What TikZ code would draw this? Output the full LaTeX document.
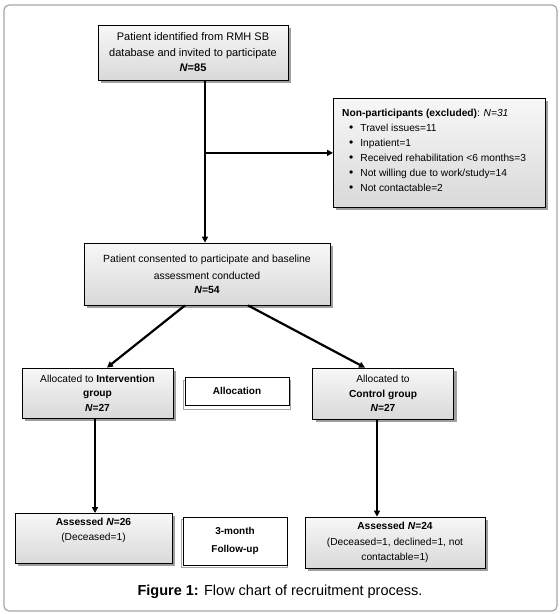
\documentclass[tikz,border=0pt]{standalone}
\usepackage{fontspec}
\setmainfont{Liberation Sans}
\usetikzlibrary{arrows.meta,shadows}
\begin{document}
\begin{tikzpicture}[x=1pt,y=-1pt,
  gbox/.style={draw=black, line width=0.8pt, top color=gray!6, bottom color=gray!30,
    drop shadow={shadow xshift=3pt, shadow yshift=-3pt, fill=gray!75, opacity=1},
    inner sep=0pt, align=center, font=\fontsize{10}{15}\selectfont},
  lbox/.style={draw=black, line width=0.6pt, fill=white, inner sep=0pt,
    align=center, font=\bfseries\fontsize{10}{18}\selectfont},
  arr/.style={line width=2.2pt, -{Triangle[length=6pt,width=6pt]}}]
\useasboundingbox (0,0) rectangle (560,614);
\draw[gray!70, line width=1.2pt, rounded corners=5pt] (4,5) rectangle (557,611);

% top box
\node[gbox, minimum width=190pt, minimum height=55pt, font=\fontsize{11}{15.5}\selectfont] (top) at (193,52.5)
  {Patient identified from RMH SB\\database and invited to participate\\\textbf{\textit{N}=85}};

% excluded box
\node[gbox, minimum width=212pt, minimum height=109pt, anchor=north west] (excl) at (333,98) {};
\node[anchor=north west, inner sep=0pt, align=left, font=\fontsize{10.2}{15}\selectfont] (excltxt) at (342,108.5)
  {\textbf{Non-participants (excluded)}: \textit{N=31}\\
   \hspace*{7pt}{\large•}\hspace{7pt}Travel issues=11\\
   \hspace*{7pt}{\large•}\hspace{7pt}Inpatient=1\\
   \hspace*{7pt}{\large•}\hspace{7pt}Received rehabilitation <6 months=3\\
   \hspace*{7pt}{\large•}\hspace{7pt}Not willing due to work/study=14\\
   \hspace*{7pt}{\large•}\hspace{7pt}Not contactable=2};

% consented
\node[gbox, minimum width=246pt, minimum height=62pt, font=\fontsize{10.4}{17}\selectfont] (cons) at (207,274)
  {Patient consented to participate and baseline\\assessment conducted\\[-3pt]\textbf{\textit{N}=54}};

% allocated
\node[gbox, minimum width=151pt, minimum height=50pt, font=\fontsize{10.2}{14.5}\selectfont] (intv) at (97.5,393)
  {Allocated to \textbf{Intervention}\\\textbf{group}\\\textbf{\textit{N}=27}};
\node[gbox, minimum width=141pt, minimum height=51pt, font=\fontsize{10.2}{14.5}\selectfont] (ctrl) at (383,393.5)
  {Allocated to\\\textbf{Control group}\\\textbf{\textit{N}=27}};

% allocation label box
\draw[gray!70, line width=0.6pt] (183,380) rectangle (290,409);
\node[lbox, minimum width=104pt, minimum height=28pt] (alloc) at (237,391) {Allocation};

% assessed
\node[gbox, minimum width=157pt, minimum height=50pt, anchor=north west] (asl) at (15,513) {};
\node[align=center, inner sep=0pt, font=\fontsize{10.2}{15}\selectfont] (asltxt) at (93.5,530.5)
  {\textbf{Assessed \textit{N}=26}\\(Deceased=1)};

\draw[gray!70, line width=0.6pt] (181,519) rectangle (287,567);
\node[lbox, minimum width=104pt, minimum height=48pt] (fu) at (235,541)
  {3-month\\Follow-up};

\node[gbox, minimum width=180pt, minimum height=51pt, font=\fontsize{10.2}{15.5}\selectfont] (asr) at (395,542.5)
  {\textbf{Assessed \textit{N}=24}\\(Deceased=1, declined=1, not\\contactable=1)};

% connectors
\coordinate (tp) at ([xshift=12pt]top.south);
\coordinate (br) at (tp |- excl.west);
\draw[arr] (tp) -- (tp |- cons.north);
\draw[arr] (br) -- (excl.west);
\draw[arr] ([xshift=-22pt]cons.south) -- ([xshift=9.5pt]intv.north);
\draw[arr] ([xshift=41pt]cons.south) -- ([xshift=-18pt]ctrl.north);
\draw[arr] ([xshift=-2.5pt]intv.south) -- ([xshift=-2.5pt]intv.south |- asl.north);
\draw[arr] ([xshift=-6pt]ctrl.south) -- ([xshift=-6pt]ctrl.south |- asr.north);

% caption
\node[font=\fontsize{14.5}{17}\selectfont, inner sep=0pt] (cap) at (280,592)
  {\textbf{Figure 1:} Flow chart of recruitment process.};
\end{tikzpicture}
\end{document}
